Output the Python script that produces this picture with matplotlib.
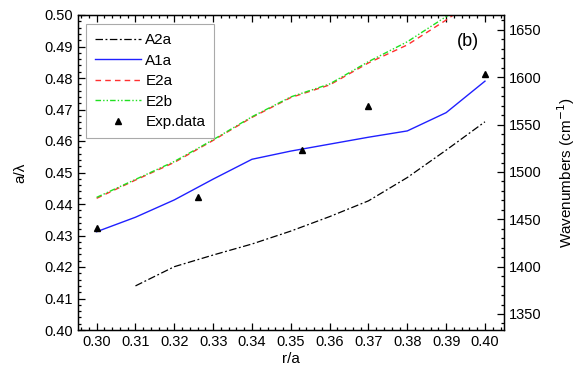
import numpy as np
import matplotlib.pyplot as plt
from matplotlib.ticker import MultipleLocator

plt.rcParams['font.family'] = ['Liberation Sans', 'DejaVu Sans']

r_a = [0.30, 0.31, 0.32, 0.33, 0.34, 0.35, 0.36, 0.37, 0.38, 0.39, 0.40]
a2a_r = [0.31, 0.32, 0.33, 0.34, 0.35, 0.36, 0.37, 0.38, 0.39, 0.40]
a2a = [0.414, 0.4201, 0.4238, 0.4273, 0.4314, 0.436, 0.441, 0.4484, 0.4571, 0.4661]
a1a = [0.4312, 0.4358, 0.4413, 0.4479, 0.4542, 0.4568, 0.459, 0.4612, 0.4632, 0.469, 0.479]
e2a = [0.4418, 0.4476, 0.4532, 0.4602, 0.4675, 0.4738, 0.4778, 0.4848, 0.4905, 0.4984, 0.507]
e2b = [0.4421, 0.4478, 0.4535, 0.4604, 0.4677, 0.4740, 0.4781, 0.4852, 0.4915, 0.4995, 0.508]
exp_r = [0.30, 0.326, 0.3528, 0.370, 0.40]
exp_y = [0.4325, 0.4423, 0.4571, 0.4711, 0.4813]

fig = plt.figure(figsize=(5.81, 3.79), dpi=100)
ax = fig.add_axes([78 / 581, 1 - 330 / 379, 426 / 581, 315 / 379])

ax.plot(a2a_r, a2a, color='black', lw=0.9, dashes=[6, 2, 1.5, 2], label='A2a')
ax.plot(r_a, a1a, color='#2020ff', lw=1.0, label='A1a')
ax.plot(r_a, e2a, color='#ff3030', lw=1.0, dashes=[4, 3], label='E2a')
ax.plot(r_a, e2b, color='#20e020', lw=1.0, dashes=[4, 1.5, 1, 1.5, 1, 1.5], label='E2b')
ax.plot(exp_r, exp_y, '^', color='black', ms=5, ls='none', label='Exp.data')

ax.set_xlim(0.2952, 0.4049)
ax.set_ylim(0.40, 0.50)
ax.xaxis.set_major_locator(MultipleLocator(0.01))
ax.xaxis.set_minor_locator(MultipleLocator(0.002))
ax.yaxis.set_major_locator(MultipleLocator(0.01))
ax.yaxis.set_minor_locator(MultipleLocator(0.002))
ax.xaxis.set_major_formatter(plt.FormatStrFormatter('%.2f'))
ax.yaxis.set_major_formatter(plt.FormatStrFormatter('%.2f'))
ax.tick_params(which='both', direction='in', top=True, labelsize=10.5, width=0.9)
ax.tick_params(which='major', length=5)
ax.tick_params(which='minor', length=2.5)
ax.set_xlabel('r/a', fontsize=11, labelpad=2)
ax.set_ylabel('a/λ', fontsize=11, labelpad=12)
for s in ax.spines.values():
    s.set_linewidth(1.0)

ax2 = ax.twinx()
ax2.set_ylim(1333.1, 1665.8)
ax2.yaxis.set_major_locator(MultipleLocator(50))
ax2.yaxis.set_minor_locator(MultipleLocator(10))
ax2.tick_params(which='both', direction='in', labelsize=10.5, width=0.9)
ax2.tick_params(which='major', length=5)
ax2.tick_params(which='minor', length=2.5)
ax2.set_ylabel('Wavenumbers (cm$^{-1}$)', fontsize=11, labelpad=10)

ax.text(0.3955, 0.4915, '(b)', fontsize=13, ha='center', va='center')

leg = ax.legend(loc='upper left', bbox_to_anchor=(0.018, 0.971), borderaxespad=0,
                fontsize=11, frameon=True, fancybox=False, edgecolor='#aaaaaa',
                framealpha=1, handlelength=3.0, handletextpad=0.3, labelspacing=0.42,
                borderpad=0.6)
leg.get_frame().set_linewidth(0.8)

fig.savefig('out.png', dpi=100)
